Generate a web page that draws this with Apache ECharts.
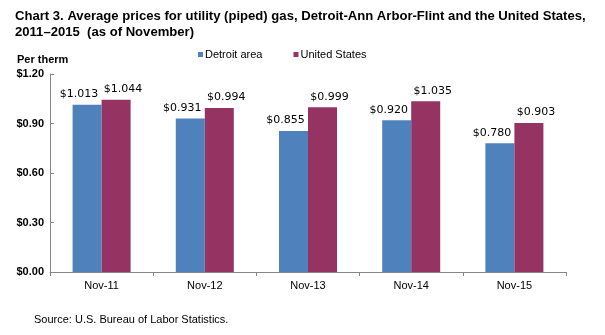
<!DOCTYPE html>
<html>
<head>
<meta charset="utf-8">
<script src="https://cdn.jsdelivr.net/npm/echarts@6/dist/echarts.min.js"></script>
<style>
  html, body { margin: 0; padding: 0; background: #fff; }
  #chart { width: 605px; height: 335px; }
</style>
</head>
<body>
<div id="chart"></div>
<script>
// Average utility gas prices per therm, as of November each year
const categories = ['Nov-11', 'Nov-12', 'Nov-13', 'Nov-14', 'Nov-15'];
const detroitPrices = [1.013, 0.931, 0.855, 0.920, 0.780];
const usPrices = [1.044, 0.994, 0.999, 1.035, 0.903];
const seriesNames = ['Detroit area', 'United States'];

const chart = echarts.init(document.getElementById('chart'), null, { renderer: 'canvas' });

const labelStyle = {
  show: true,
  position: 'top',
  distance: 5,
  fontFamily: 'DejaVu Sans',
  fontSize: 11,
  color: '#000',
  formatter: p => '$' + p.value.toFixed(3)
};

chart.setOption({
  animation: false,
  textStyle: { fontFamily: 'Liberation Sans' },
  title: [
    {
      text: 'Chart 3. Average prices for utility (piped) gas, Detroit-Ann Arbor-Flint and the United States,\n2011\u20132015  (as of November)',
      left: 10, top: 4,
      textStyle: { fontFamily: 'Liberation Sans', fontWeight: 'bold', fontSize: 13.1, lineHeight: 15.5, color: '#000' }
    },
    {
      text: 'Per therm',
      left: 12, top: 49,
      textStyle: { fontFamily: 'Liberation Sans', fontWeight: 'bold', fontSize: 11, color: '#000' }
    },
    {
      text: 'Source: U.S. Bureau of Labor Statistics.',
      left: 29, top: 309,
      textStyle: { fontFamily: 'Liberation Sans', fontWeight: 'normal', fontSize: 11, color: '#000' }
    }
  ],
  legend: {
    data: seriesNames,
    left: 198, top: 49, padding: 0,
    itemWidth: 5, itemHeight: 5, itemGap: 31,
    icon: 'rect',
    textStyle: { fontFamily: 'Liberation Sans', fontSize: 11, color: '#000', padding: [0, 0, 0, -3] }
  },
  grid: { left: 50, right: 39, top: 74, bottom: 63 },
  xAxis: {
    type: 'category',
    data: categories,
    axisLine: { lineStyle: { color: '#868686' } },
    axisTick: { show: true, length: 4, alignWithLabel: false, lineStyle: { color: '#868686' } },
    axisLabel: { fontFamily: 'Liberation Sans', fontSize: 11, color: '#000', margin: 8 }
  },
  yAxis: {
    type: 'value',
    min: 0, max: 1.2, interval: 0.3,
    axisLine: { show: true, lineStyle: { color: '#868686' } },
    axisTick: { show: true, inside: true, length: 4, lineStyle: { color: '#868686' } },
    splitLine: { show: false },
    axisLabel: {
      fontFamily: 'Liberation Sans', fontSize: 11, fontWeight: 'bold', color: '#000', margin: 6,
      formatter: v => '$' + v.toFixed(2)
    }
  },
  series: [
    {
      name: seriesNames[0], type: 'bar', data: detroitPrices,
      barWidth: 29, barGap: '0%',
      itemStyle: { color: '#4F81BD' },
      label: Object.assign({}, labelStyle, { offset: [-8, 0] })
    },
    {
      name: seriesNames[1], type: 'bar', data: usPrices,
      barWidth: 29, barGap: '0%',
      itemStyle: { color: '#953463' },
      label: Object.assign({}, labelStyle, { offset: [7, 0] })
    }
  ]
});
</script>
</body>
</html>
